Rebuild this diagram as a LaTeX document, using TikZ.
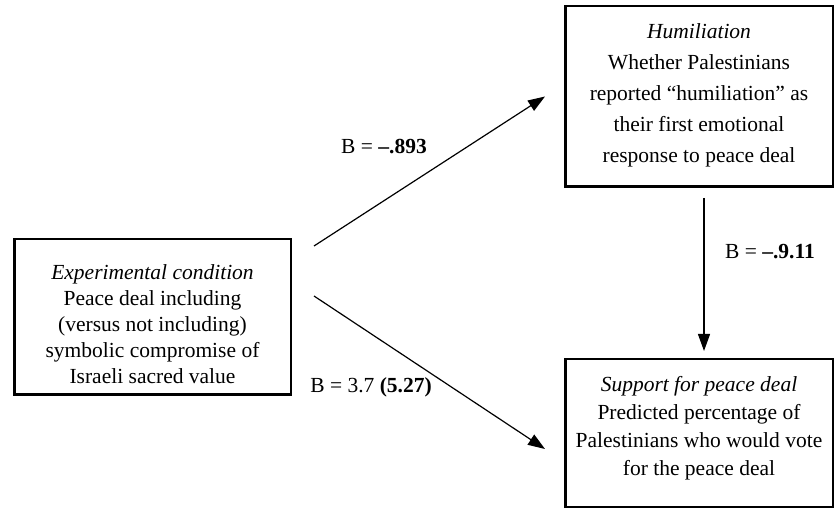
\documentclass[tikz,border=0pt]{standalone}
\usepackage{fontspec}
\setmainfont{Liberation Serif}
\usepackage{tikz}
\usetikzlibrary{arrows.meta,positioning}
\tikzset{
  box/.style={draw,line width=2.5pt,inner sep=0pt},
  txt/.style={align=center,inner sep=0pt,font=\fontsize{21.5}{26}\selectfont},
  arr/.style={-{Triangle[length=17pt,width=12pt]},line width=1.2pt},
  coef/.style={inner sep=0pt,font=\fontsize{21.5}{26}\selectfont},
}

\begin{document}
\begin{tikzpicture}[x=1pt,y=1pt]
    \useasboundingbox (0,0) rectangle (838,-510);
    % boxes
    \node[box,minimum width=276.5pt,minimum height=155.5pt] (cond) at (152.5,-317) {};
    \node[box,minimum width=267.5pt,minimum height=180.5pt] (humil) at (699,-96.5) {};
    \node[box,minimum width=267.5pt,minimum height=147.5pt] (support) at (699,-433) {};
    % box texts
    \node[txt] (condtxt) at ([yshift=-7pt]cond.center)
      {\textit{Experimental condition}\\Peace deal including\\(versus not including)\\symbolic compromise of\\Israeli sacred value};
    \node[txt,font=\fontsize{21.5}{31}\selectfont] (humiltxt) at ([yshift=1pt]humil.center)
      {\textit{Humiliation}\\Whether Palestinians\\reported ``humiliation'' as\\their first emotional\\response to peace deal};
    \node[txt,font=\fontsize{21.5}{28}\selectfont] (supporttxt) at ([yshift=5pt]support.center)
      {\textit{Support for peace deal}\\Predicted percentage of\\Palestinians who would vote\\for the peace deal};
    % paths
    \draw[arr] ([xshift=22pt,yshift=71pt]cond.east) -- ([xshift=-19pt]humil.west);
    \draw[arr] ([xshift=22pt,yshift=21pt]cond.east) -- ([xshift=-19pt,yshift=-16pt]support.west);
    \draw[arr] ([xshift=5pt,yshift=-10pt]humil.south) -- ([xshift=5pt,yshift=7pt]support.north);
    % coefficients
    \node[coef] (b1) at (384,-147) {B = \textbf{--.893}};
    \node[coef] (b2) at (770,-252) {B = \textbf{--.9.11}};
    \node[coef] (b3) at (371,-387) {B = 3.7 \textbf{(5.27)}};
  \end{tikzpicture}
\end{document}
